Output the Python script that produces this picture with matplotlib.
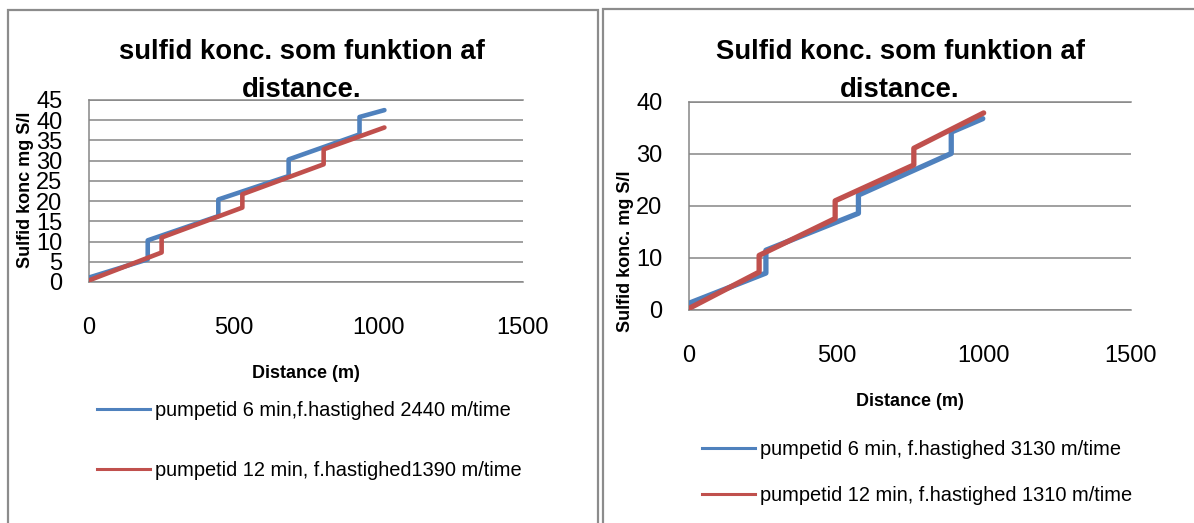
import matplotlib
matplotlib.use("Agg")
import matplotlib.pyplot as plt
from matplotlib.patches import Rectangle
from matplotlib.lines import Line2D

plt.rcParams["font.family"] = ["Liberation Sans", "DejaVu Sans"]

# left chart data (distance m, sulfide mg S/l)
left_blue_x = [0, 203, 203, 447, 447, 690, 690, 935, 935, 1021]
left_blue_y = [1.1, 5.6, 10.3, 16.3, 20.4, 26.2, 30.3, 36.5, 40.8, 42.5]
left_red_x = [0, 251, 251, 530, 530, 811, 811, 1021]
left_red_y = [0.4, 7.3, 11.0, 18.4, 21.7, 29.1, 32.8, 38.2]

# right chart data
right_blue_x = [0, 261, 261, 575, 575, 890, 890, 997]
right_blue_y = [1.3, 7.1, 11.5, 18.6, 22.1, 30.1, 34.2, 36.8]
right_red_x = [0, 238, 238, 496, 496, 763, 763, 1000]
right_red_y = [0.3, 7.3, 10.5, 17.6, 21.0, 27.9, 31.1, 37.9]

left_title = ["sulfid konc. som funktion af", "distance."]
right_title = ["Sulfid konc. som funktion af", "distance."]
left_ylabel = "Sulfid konc mg S/l"
right_ylabel = "Sulfid konc. mg S/l"
xlabel = "Distance (m)"
left_labels = ["pumpetid 6 min,f.hastighed 2440 m/time",
               "pumpetid 12 min, f.hastighed1390 m/time"]
right_labels = ["pumpetid 6 min, f.hastighed 3130 m/time",
                "pumpetid 12 min, f.hastighed 1310 m/time"]
x_ticks = [0, 500, 1000, 1500]
left_y_ticks = list(range(0, 50, 5))
right_y_ticks = list(range(0, 50, 10))

BLUE = "#4F81BD"
RED = "#C0504D"
GRID = "#868686"

W, H = 1194, 523
fig = plt.figure(figsize=(W / 100, H / 100), dpi=100)


def fx(px):
    return px / W


def fy(py):
    return 1 - py / H


# outer chart boxes
for x0, y0, x1 in [(8, 10, 598), (603, 9, 1200)]:
    fig.patches.append(Rectangle((fx(x0), fy(H + 5)), fx(x1 - x0), (H + 5 - y0) / H,
                                 transform=fig.transFigure, fill=False,
                                 edgecolor="#8c8c8c", linewidth=1.6))


def make_panel(rect, bx, by, rx, ry, yticks, ymax, title, ylabel, ylab_pos,
               title_x, xlab_y, labels, leg_x, leg_y, lspace, lw):
    ax = fig.add_axes(rect)
    ax.plot(bx, by, color=BLUE, lw=lw, solid_capstyle="round", zorder=3)
    ax.plot(rx, ry, color=RED, lw=lw, solid_capstyle="round", zorder=4)
    ax.set_xlim(0, 1500)
    ax.set_ylim(0, ymax)
    ax.set_xticks(x_ticks)
    ax.set_yticks(yticks)
    ax.tick_params(axis="x", length=0, pad=25, labelsize=17)
    ax.tick_params(axis="y", length=0, pad=19, labelsize=17)
    ax.grid(axis="y", color=GRID, lw=1.1)
    ax.spines["right"].set_visible(False)
    for s in ["left", "top", "bottom"]:
        ax.spines[s].set_color(GRID)
        ax.spines[s].set_linewidth(1.1)
    ax.set_axisbelow(True)
    # title (two lines, baselines)
    fig.text(fx(title_x), fy(59), title[0], ha="center", va="baseline",
             fontsize=19.8, fontweight="bold")
    fig.text(fx(title_x), fy(97), title[1], ha="center", va="baseline",
             fontsize=19.8, fontweight="bold")
    cx = rect[0] + rect[2] / 2
    fig.text(cx, fy(xlab_y), xlabel, ha="center", va="center",
             fontsize=13, fontweight="bold")
    fig.text(fx(ylab_pos[0]), fy(ylab_pos[1]), ylabel, ha="center", va="center",
             rotation=90, fontsize=13, fontweight="bold")
    handles = [Line2D([], [], color=BLUE, lw=2.2), Line2D([], [], color=RED, lw=2.2)]
    fig.legend(handles, labels, loc="center left",
               bbox_to_anchor=(fx(leg_x), fy(leg_y)), frameon=False,
               fontsize=14.4, handlelength=2.65, handletextpad=0.25,
               labelspacing=lspace, borderpad=0, borderaxespad=0)
    return ax


make_panel([fx(89), fy(282), fx(523) - fx(89), (282 - 100) / H],
           left_blue_x, left_blue_y, left_red_x, left_red_y,
           left_y_ticks, 45, left_title, left_ylabel, (25, 190), 302, 373,
           left_labels, 97, 440.5, 2.05, 3.3)

make_panel([fx(689), fy(310), fx(1131) - fx(689), (310 - 102) / H],
           right_blue_x, right_blue_y, right_red_x, right_red_y,
           right_y_ticks, 40, right_title, right_ylabel, (625, 251), 900, 402,
           right_labels, 702, 472.5, 1.35, 3.8)

fig.savefig("out.png", dpi=100)
